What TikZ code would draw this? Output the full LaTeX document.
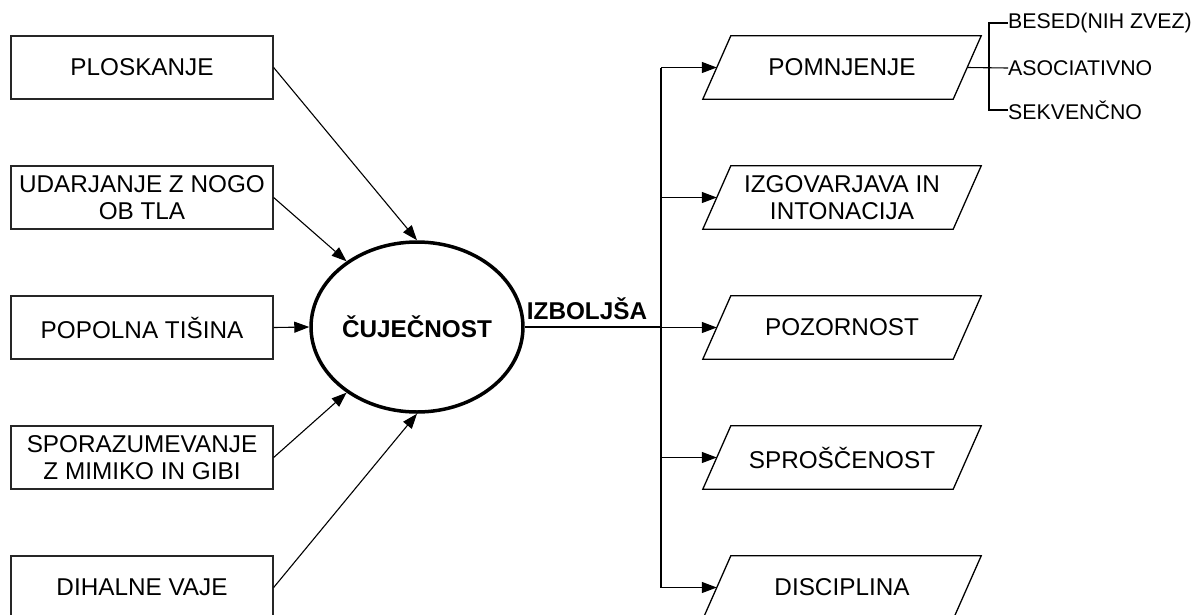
\documentclass[tikz,border=0pt]{standalone}
\usepackage{fontspec}
\setmainfont{Liberation Sans}
\usetikzlibrary{arrows.meta,shapes.geometric}
\begin{document}
\begin{tikzpicture}[x=1pt,y=-1pt,
  lbox/.style={draw=black!85,line width=1.3pt,minimum width=262pt,minimum height=63pt,inner sep=0pt,align=center,font=\fontsize{24.3}{27}\selectfont},
  pbox/.style={minimum width=250pt,minimum height=63pt,inner sep=0pt,align=center,font=\fontsize{24.3}{27}\selectfont},
  conn/.style={line width=1.1pt,-{Triangle[length=15pt,width=11pt]}},
  plain/.style={line width=1.3pt},
  small/.style={font=\fontsize{21.3}{24}\selectfont,inner sep=0pt,anchor=west}]
\clip (0,0) rectangle (1200,614);
\fill[white] (0,0) rectangle (1200,614);
% left boxes
\node[lbox] (b1) at (142,67.5) {PLOSKANJE};
\node[lbox] (b2) at (142,197.5) {UDARJANJE Z NOGO\\OB TLA};
\node[lbox] (b3) at (142,327.5) {POPOLNA TIŠINA};
\node[lbox] (b4) at (142,457.5) {SPORAZUMEVANJE\\Z MIMIKO IN GIBI};
\node[lbox] (b5) at (142,587.5) {DIHALNE VAJE};
% ellipse
\node[ellipse,draw,line width=3.5pt,minimum width=190pt,minimum height=170pt,inner sep=0pt,font=\fontsize{24.3}{27}\selectfont\bfseries] (c) at (417,327) {ČUJEČNOST};
\draw[conn] (b1.east) -- (c.north);
\draw[conn] (b2.east) -- (c.137);
\draw[conn] (b3.east) -- (c.west);
\draw[conn] (b4.east) -- (c.223);
\draw[conn] (b5.east) -- (c.south);
% right parallelograms
\node[pbox] (p1) at (842,67.5) {POMNJENJE};
\node[pbox] (p2) at (842,197.5) {IZGOVARJAVA IN\\INTONACIJA};
\node[pbox] (p3) at (842,327.5) {POZORNOST};
\node[pbox] (p4) at (842,457.5) {SPROŠČENOST};
\node[pbox] (p5) at (842,587.5) {DISCIPLINA};
\foreach \p in {p1,p2,p3,p4,p5}{
  \draw[plain] ([xshift=14pt]\p.north west) -- ([xshift=14pt]\p.north east) -- ([xshift=-14pt]\p.south east) -- ([xshift=-14pt]\p.south west) -- cycle;
}
% trunk
\coordinate (j1) at (661,67.5);
\coordinate (j5) at (661,587.5);
\draw[line width=1.1pt] (j1) -- (j5);
\draw[line width=1.1pt] (c.east) -- (661,327);
\node[font=\fontsize{24.3}{27}\selectfont\bfseries,inner sep=0pt] (lab) at (587,309) {IZBOLJŠA};
\foreach \p in {p1,p2,p3,p4,p5}{
  \draw[conn] (661,0 |- \p.west) -- (\p.west);
}
% bracket
\coordinate (k1) at (989,23);
\coordinate (k3) at (989,110);
\node[small] (s1) at (1008,23) {BESED(NIH ZVEZ)};
\node[small] (s2) at (1008,68) {ASOCIATIVNO};
\node[small] (s3) at (1008,110) {SEKVENČNO};
\draw[line width=1.1pt] (p1.east) -- (s2.west);
\draw[line width=1.1pt] (s1.west) -- (k1) -- (k3) -- (s3.west);
\end{tikzpicture}
\end{document}
